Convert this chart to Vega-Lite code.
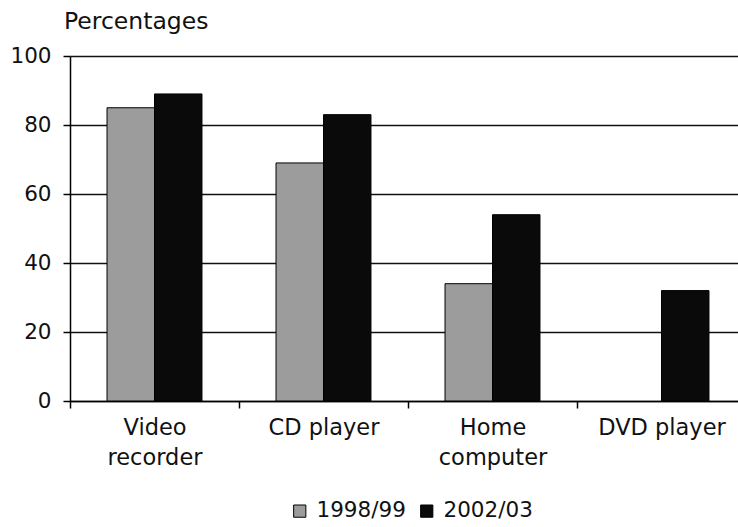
{
  "$schema": "https://vega.github.io/schema/vega-lite/v6.json",
  "width": 676,
  "height": 345,
  "autosize": {"type": "none"},
  "padding": {"left": 70, "top": 56, "right": 0, "bottom": 126},
  "background": "white",
  "title": {"text": "Percentages", "anchor": "start", "frame": "group", "dx": -6, "offset": 12, "font": "DejaVu Sans", "fontSize": 23.5, "fontWeight": "normal", "color": "#111"},
  "data": {"values": [
    {"item": "Video recorder", "year": "1998/99", "pct": 85},
    {"item": "Video recorder", "year": "2002/03", "pct": 89},
    {"item": "CD player", "year": "1998/99", "pct": 69},
    {"item": "CD player", "year": "2002/03", "pct": 83},
    {"item": "Home computer", "year": "1998/99", "pct": 34},
    {"item": "Home computer", "year": "2002/03", "pct": 54},
    {"item": "DVD player", "year": "2002/03", "pct": 32}
  ]},
  "mark": {"type": "bar", "stroke": "#000", "strokeWidth": 1},
  "encoding": {
    "x": {
      "field": "item", "type": "nominal",
      "sort": ["Video recorder", "CD player", "Home computer", "DVD player"],
      "scale": {"paddingInner": 0, "paddingOuter": 0},
      "axis": {
        "title": null, "labelAngle": 0, "tickBand": "extent", "tickSize": 7, "tickColor": "#000", "tickWidth": 1.5,
        "domainColor": "#000", "domainWidth": 1.5, "labelFont": "DejaVu Sans", "labelFontSize": 22.5, "labelColor": "#111",
        "labelPadding": 8, "labelLineHeight": 30, "labelBaseline": "top",
        "labelExpr": "datum.label == 'Video recorder' ? ['Video', 'recorder'] : datum.label == 'Home computer' ? ['Home', 'computer'] : datum.label"
      }
    },
    "xOffset": {"field": "year", "type": "nominal", "sort": ["1998/99", "2002/03"], "scale": {"paddingInner": 0, "paddingOuter": 0.78}},
    "y": {
      "field": "pct", "type": "quantitative",
      "scale": {"domain": [0, 100]},
      "axis": {
        "title": null, "values": [0, 20, 40, 60, 80, 100], "grid": true, "gridColor": "#111", "gridWidth": 1.5,
        "tickSize": 7, "tickColor": "#000", "tickWidth": 1.5, "domainColor": "#000", "domainWidth": 1.5,
        "labelFont": "DejaVu Sans", "labelFontSize": 21.5, "labelColor": "#111", "labelPadding": 12
      }
    },
    "color": {
      "field": "year", "type": "nominal",
      "scale": {"domain": ["1998/99", "2002/03"], "range": ["#9c9c9c", "#0a0a0a"]},
      "legend": {
        "title": null, "orient": "none", "legendX": 219, "legendY": 444, "direction": "horizontal",
        "symbolType": "square", "symbolSize": 150, "symbolStrokeColor": "#000", "symbolStrokeWidth": 1,
        "labelFont": "DejaVu Sans", "labelFontSize": 21.5, "labelColor": "#111", "labelOffset": 6, "columnPadding": 10
      }
    }
  },
  "config": {"view": {"stroke": null}}
}
